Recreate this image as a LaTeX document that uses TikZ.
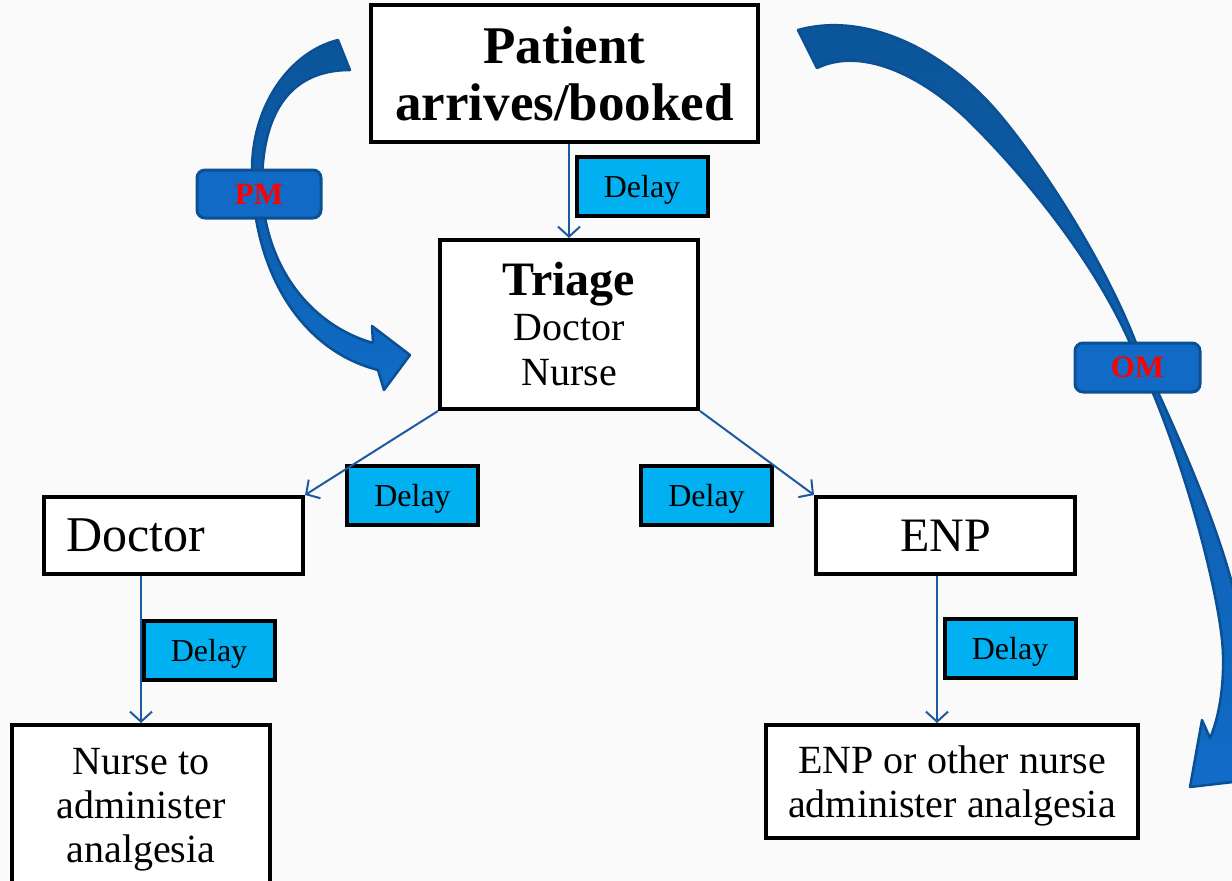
\documentclass[tikz,border=0pt]{standalone}
\usepackage{fontspec}
\setmainfont{Liberation Serif}
\usetikzlibrary{arrows.meta}
\definecolor{bg}{RGB}{250,250,250}
\definecolor{delaycyan}{RGB}{0,176,240}
\definecolor{linkblue}{RGB}{30,90,160}
\definecolor{arrtop}{RGB}{11,84,152}
\definecolor{arrbot}{RGB}{16,108,200}
\definecolor{arrdraw}{RGB}{11,80,148}
\definecolor{tagfill}{RGB}{16,106,198}
\begin{document}
\begin{tikzpicture}[x=1pt,y=-1pt,
  box/.style={draw=black, line width=4pt, fill=white, inner sep=0pt, align=center,
    font=\fontsize{40}{44}\selectfont},
  delay/.style={draw=black, line width=4pt, fill=delaycyan, minimum width=131pt,
    minimum height=59pt, inner sep=0pt, text depth=0pt, font=\fontsize{32}{36}\selectfont},
  link/.style={draw=linkblue, line width=2pt, -{Straight Barb[length=10pt,width=22pt]}},
  bigarrow/.style={top color=arrtop, bottom color=arrbot, draw=arrdraw, line width=2.5pt, line join=round},
  tag/.style={fill=tagfill, draw=arrdraw, line width=3pt, rounded corners=8pt,
    minimum width=124pt, minimum height=48pt, inner sep=0pt, text=red,
    font=\fontsize{31}{34}\selectfont\bfseries}]
\fill[bg] (0,0) rectangle (1232,881);
\useasboundingbox (0,0) rectangle (1232,881);
\clip (0,0) rectangle (1232,881);

% PM curved arrow
\draw[bigarrow] (338,40) .. controls (290,52) and (252,105) .. (252,170)
  .. controls (252,270) and (300,350) .. (378,370)
  -- (384,390) -- (410,355) -- (372,326) -- (373,343)
  .. controls (310,325) and (263,265) .. (262,185)
  .. controls (262,120) and (285,70) .. (350,70) -- cycle;

% OM curved arrow
\draw[bigarrow] (798,30) .. controls (870,10) and (950,55) .. (1000,115)
  .. controls (1050,175) and (1108,270) .. (1136,343)
  .. controls (1160,400) and (1242,560) .. (1245,660)
  .. controls (1248,700) and (1245,740) .. (1236,765)
  -- (1268,778) -- (1190,787) -- (1202,720) -- (1210,738)
  .. controls (1218,720) and (1224,690) .. (1223,655)
  .. controls (1222,600) and (1180,440) .. (1130,343)
  .. controls (1094,262) and (1030,182) .. (972,124)
  .. controls (928,80) and (865,45) .. (817,68) -- cycle;

% boxes
\node[box, minimum width=387pt, minimum height=137pt,
  font=\fontsize{53}{57}\selectfont\bfseries] (patient) at (564.5,73.5) {Patient\\arrives/booked};
\node[box, minimum width=258pt, minimum height=169pt, font=\fontsize{40}{45}\selectfont]
  (triage) at (569,324.5) {{\fontsize{48}{50}\selectfont\bfseries Triage}\\Doctor\\Nurse};
\node[box, text width=215pt, align=left, inner xsep=22pt, minimum height=77pt,
  font=\fontsize{50}{55}\selectfont] (doctor) at (173.5,535.5) {Doctor};
\node[box, minimum width=259pt, minimum height=77pt, font=\fontsize{48}{52}\selectfont]
  (enp) at (945.5,535.5) {ENP};
\node[box, minimum width=258pt, minimum height=160pt, text depth=0pt] (nurse) at (141,805)
  {Nurse to\\administer\\analgesia};
\node[box, minimum width=372pt, minimum height=113pt, text depth=0pt] (enpo) at (952,781.5)
  {ENP or other nurse\\administer analgesia};

% delay labels
\node[delay] (d1) at (642,186.5) {Delay};
\node[delay] (d2) at (412.5,495.5) {Delay};
\node[delay] (d3) at (706.5,495.5) {Delay};
\node[delay] (d4) at (209,650) {Delay};
\node[delay] (d5) at (1010,648) {Delay};

% connectors
\draw[link] (patient.south -| triage.north) -- (triage.north);
\draw[link] (triage.south west) -- (doctor.north east);
\draw[link] (triage.south east) -- (enp.north west);
\draw[link] (nurse.north |- doctor.south) -- (nurse.north);
\draw[link] ([xshift=-8.5pt]enp.south) -- ([xshift=-8.5pt]enp.south |- enpo.north);

% tags
\node[tag] (pm) at (259,194) {PM};
\node[tag, minimum width=125pt, minimum height=49pt] (om) at (1137.5,367.5) {OM};
\end{tikzpicture}
\end{document}
